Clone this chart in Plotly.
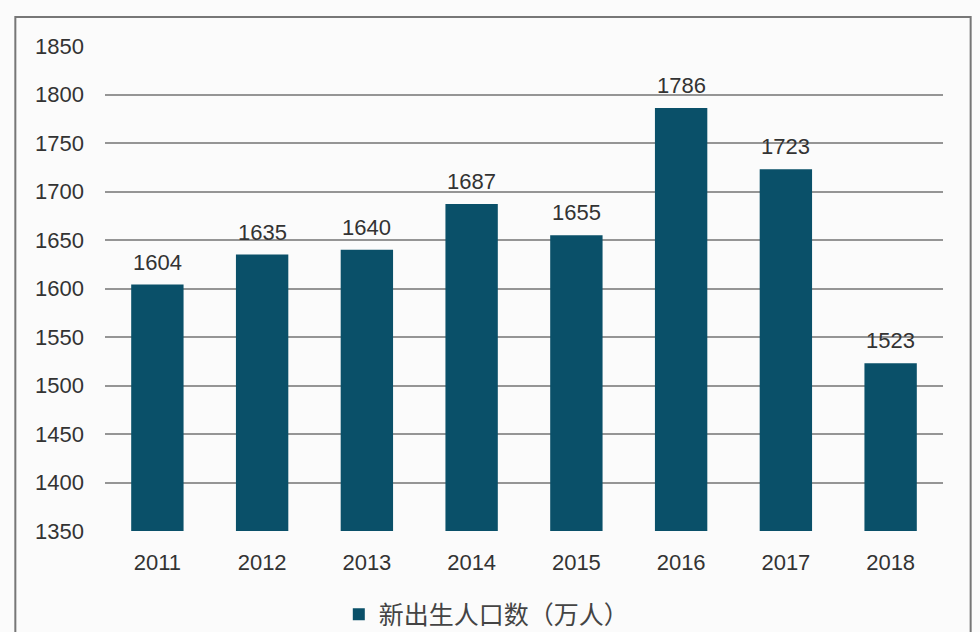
import plotly.graph_objects as go

years = ["2011", "2012", "2013", "2014", "2015", "2016", "2017", "2018"]
births = [1604, 1635, 1640, 1687, 1655, 1786, 1723, 1523]
series_name = "新出生人口数（万人）"
y_ticks = [1350, 1400, 1450, 1500, 1550, 1600, 1650, 1700, 1750, 1800, 1850]

fig = go.Figure()
fig.add_trace(go.Bar(
    x=years, y=births, name=series_name,
    marker=dict(color="#0a5069", line=dict(width=0)),
))

for i, v in enumerate(births):
    fig.add_annotation(x=i, y=v, xref="x", yref="y", text=str(v), showarrow=False,
                       yanchor="bottom", yshift=8,
                       font=dict(size=22, color="#333333", family="Liberation Sans, Arial"))

fig.update_layout(
    width=980, height=632,
    margin=dict(l=105, r=37, t=46, b=101, autoexpand=False),
    paper_bgcolor="#fbfbfb", plot_bgcolor="#fbfbfb",
    bargap=0.5,
    font=dict(family="Liberation Sans, Arial", size=22, color="#333333"),
    showlegend=True,
    legend=dict(orientation="h", x=0.279, xanchor="left", y=-0.172, yanchor="middle",
                font=dict(size=25, family="Noto Sans CJK SC", color="#444444"),
                bgcolor="rgba(0,0,0,0)"),
    xaxis=dict(type="category", categoryorder="array", categoryarray=years,
               range=[-0.5, len(years) - 0.5],
               showline=False, ticks="", ticklabelstandoff=16,
               tickfont=dict(size=22, color="#333333")),
    yaxis=dict(range=[1350, 1850], tickvals=y_ticks, showgrid=True,
               gridcolor="#959595", gridwidth=1.6, zeroline=False, showline=False,
               ticks="", ticklabelstandoff=20,
               tickfont=dict(size=22, color="#333333")),
    shapes=[dict(type="rect", xref="paper", yref="paper",
                 x0=-0.107, x1=1.033, y0=-0.25, y1=1.06,
                 line=dict(color="#777777", width=2), fillcolor="rgba(0,0,0,0)",
                 layer="below")],
)

fig.write_html("out.html")
